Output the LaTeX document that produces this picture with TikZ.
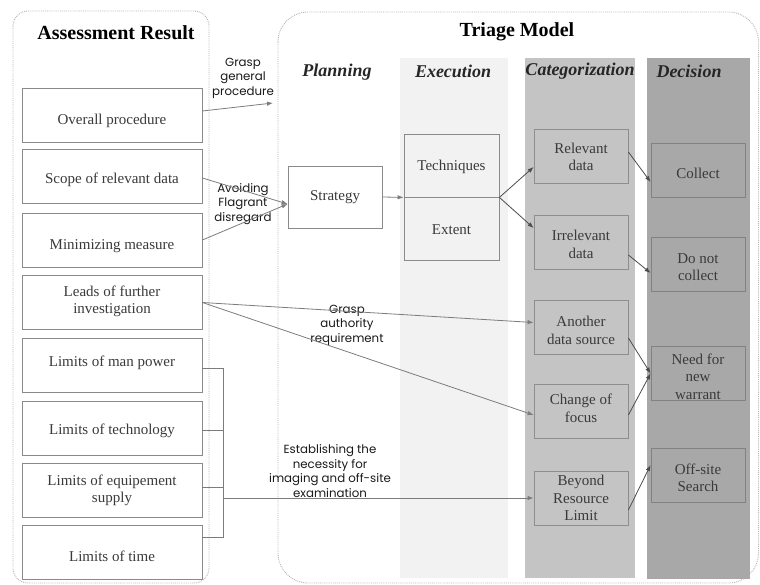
\documentclass[tikz,border=0pt]{standalone}
\usepackage{fontspec}
\setmainfont{Liberation Serif}
\newfontfamily\lblfont{Poppins}
\usetikzlibrary{arrows.meta}

\definecolor{execol}{HTML}{F2F2F2}
\definecolor{catcol}{HTML}{C4C4C4}
\definecolor{deccol}{HTML}{A8A8A8}
\definecolor{boxline}{HTML}{8A8A8A}
\definecolor{catline}{HTML}{8E8E8E}
\definecolor{decline}{HTML}{828282}
\definecolor{boxtext}{HTML}{3A3A3A}
\definecolor{linkcol}{HTML}{7C7C7C}
\definecolor{framecol}{HTML}{B4B4B4}

% box with its text placed at a vertical offset (pt) from the centre
\newcommand\placebox[5][0]{\node[#2,label={[btxt,yshift=#1pt]center:{#5}}] (#3) at (#4) {};}

\begin{document}
\begin{tikzpicture}[x=1pt,y=-1pt,
  every node/.style={inner sep=0pt},
  frame/.style={draw=framecol,densely dotted,line width=0.9pt},
  btxt/.style={font=\fontsize{15}{17.5}\selectfont,text=boxtext,align=center},
  lbox/.style={draw=boxline,fill=white,line width=0.8pt,minimum width=180pt,minimum height=54pt},
  pbox/.style={draw=boxline,fill=white,line width=0.8pt,minimum width=94pt,minimum height=62pt},
  ebox/.style={draw=boxline,fill=execol,line width=0.8pt,minimum width=95pt,minimum height=63pt},
  cbox/.style={draw=catline,fill=catcol,line width=0.8pt,minimum width=94pt,minimum height=54pt},
  dbox/.style={draw=decline,fill=deccol,line width=0.8pt,minimum width=94pt,minimum height=54pt},
  title/.style={font=\fontsize{20}{24}\selectfont\bfseries},
  head/.style={font=\fontsize{18}{22}\selectfont\bfseries\itshape,text=black!85},
  lbl/.style={font=\lblfont\fontsize{11.8}{14.5}\selectfont,text=black!90,align=center},
  link/.style={draw=linkcol,line width=0.8pt},
  arrow/.style={link,-{Latex[length=6pt,width=4.5pt]}},
  darrow/.style={arrow,draw=black!70}]

\useasboundingbox (0,0) rectangle (760,585);

% outer frames
\draw[frame,rounded corners=15pt] (13,11) rectangle (209,583);
\draw[frame,rounded corners=30pt] (278,12) rectangle (758.5,583);

% stage columns
\fill[execol] (400,58) rectangle (508,578);
\fill[catcol] (525,58) rectangle (635,578);
\fill[deccol] (647,58) rectangle (749,578);
\draw[decline!70,line width=0.6pt] (647,58) rectangle (749,578);

% titles and stage headings
\node[title] (tres) at (116,33) {Assessment Result};
\node[title] (tmod) at (517,32) {Triage Model};
\node[head] (hplan) at (337,72) {Planning};
\node[head] (hexec) at (453,71) {Execution};
\node[head] (hcat) at (580,71) {Categorization};
\node[head] (hdec) at (689,71) {Decision};

% assessment results
\placebox[-6]{lbox}{op}{112,115}{Overall procedure}
\placebox[-3]{lbox}{scope}{112,176.5}{Scope of relevant data}
\placebox[-6]{lbox}{mini}{112,240}{Minimizing measure}
\placebox[1]{lbox}{leads}{112,302.5}{Leads of further\\investigation}
\placebox[2]{lbox}{lmp}{112,365}{Limits of man power}
\placebox[-3]{lbox}{ltech}{112,428}{Limits of technology}
\placebox[0]{lbox}{lequ}{112,490.5}{Limits of equipement\\supply}
\placebox[-4]{lbox}{ltime}{112,552.5}{Limits of time}

% planning and execution
\placebox[0]{pbox}{strat}{335,197}{Strategy}
\placebox[-1]{ebox}{tech}{451.5,165.5}{Techniques}
\placebox[-1]{ebox}{ext}{451.5,228.5}{Extent}

% categorization
\placebox[-1]{cbox}{rel}{581,156}{Relevant\\data}
\placebox[-2]{cbox}{irr}{581,242.5}{Irrelevant\\data}
\placebox[-3]{cbox}{ads}{581,327.5}{Another\\data source}
\placebox[3]{cbox}{cof}{581,411.5}{Change of\\focus}
\placebox[0]{cbox}{brl}{581,498}{Beyond\\Resource\\Limit}

% decision
\placebox[-3]{dbox}{col}{698,170}{Collect}
\placebox[-3]{dbox}{dnc}{698,264}{Do not\\collect}
\placebox[-3]{dbox}{nfw}{698,373.5}{Need for\\new\\warrant}
\placebox[-3]{dbox}{ofs}{698,475}{Off-site\\Search}

% connector labels
\node[lbl] (lgrasp) at (243,78) {Grasp\\general\\procedure};
\node[lbl] (lavoid) at (243,204) {Avoiding\\Flagrant\\disregard};
\node[lbl] (lauth) at (347,325) {Grasp\\authority\\requirement};
\node[lbl] (lestab) at (330,471) {Establishing the\\necessity for\\imaging and off-site\\examination};

% assessment to planning
\coordinate (gpend) at (273,103);
\draw[arrow] ([yshift=4pt]op.east) -- (gpend);
\draw[arrow] ([yshift=-1.5pt]scope.east) -- ([yshift=-7pt]strat.west);
\draw[arrow] (mini.east) -- ([yshift=-7pt]strat.west);

% leads to categorization
\draw[arrow] (leads.east) -- ([yshift=5pt]ads.west);
\draw[arrow] (leads.east) -- ([yshift=-3.5pt]cof.west);

% resource limits bracket
\coordinate (brk) at (223,498);
\draw[link] ([yshift=-3pt]lmp.east) -- ++(21,0) |- ([yshift=15.5pt]ltime.east);
\draw[link] ([yshift=-2pt]ltech.east) -- ++(21,0);
\draw[link] ([yshift=3.5pt]lequ.east) -- ++(21,0);
\draw[arrow] (brk) -- (brl.west);

% planning to execution to categorization
\draw[arrow] (strat.east) -- (tech.south west);
\draw[darrow] (tech.south east) -- ([yshift=-11pt]rel.west);
\draw[darrow] (tech.south east) -- ([yshift=14.5pt]irr.west);

% categorization to decision
\draw[darrow] ([yshift=4pt]rel.east) -- ([yshift=-12pt]col.west);
\draw[darrow] ([yshift=-12.5pt]irr.east) -- ([yshift=-9pt]dnc.west);
\draw[darrow] ([yshift=-10.5pt]ads.east) -- (nfw.west);
\draw[darrow] ([yshift=-3.5pt]cof.east) -- (nfw.west);
\draw[darrow] ([yshift=-12pt]brl.east) -- ([yshift=10pt]ofs.west);

\end{tikzpicture}
\end{document}
